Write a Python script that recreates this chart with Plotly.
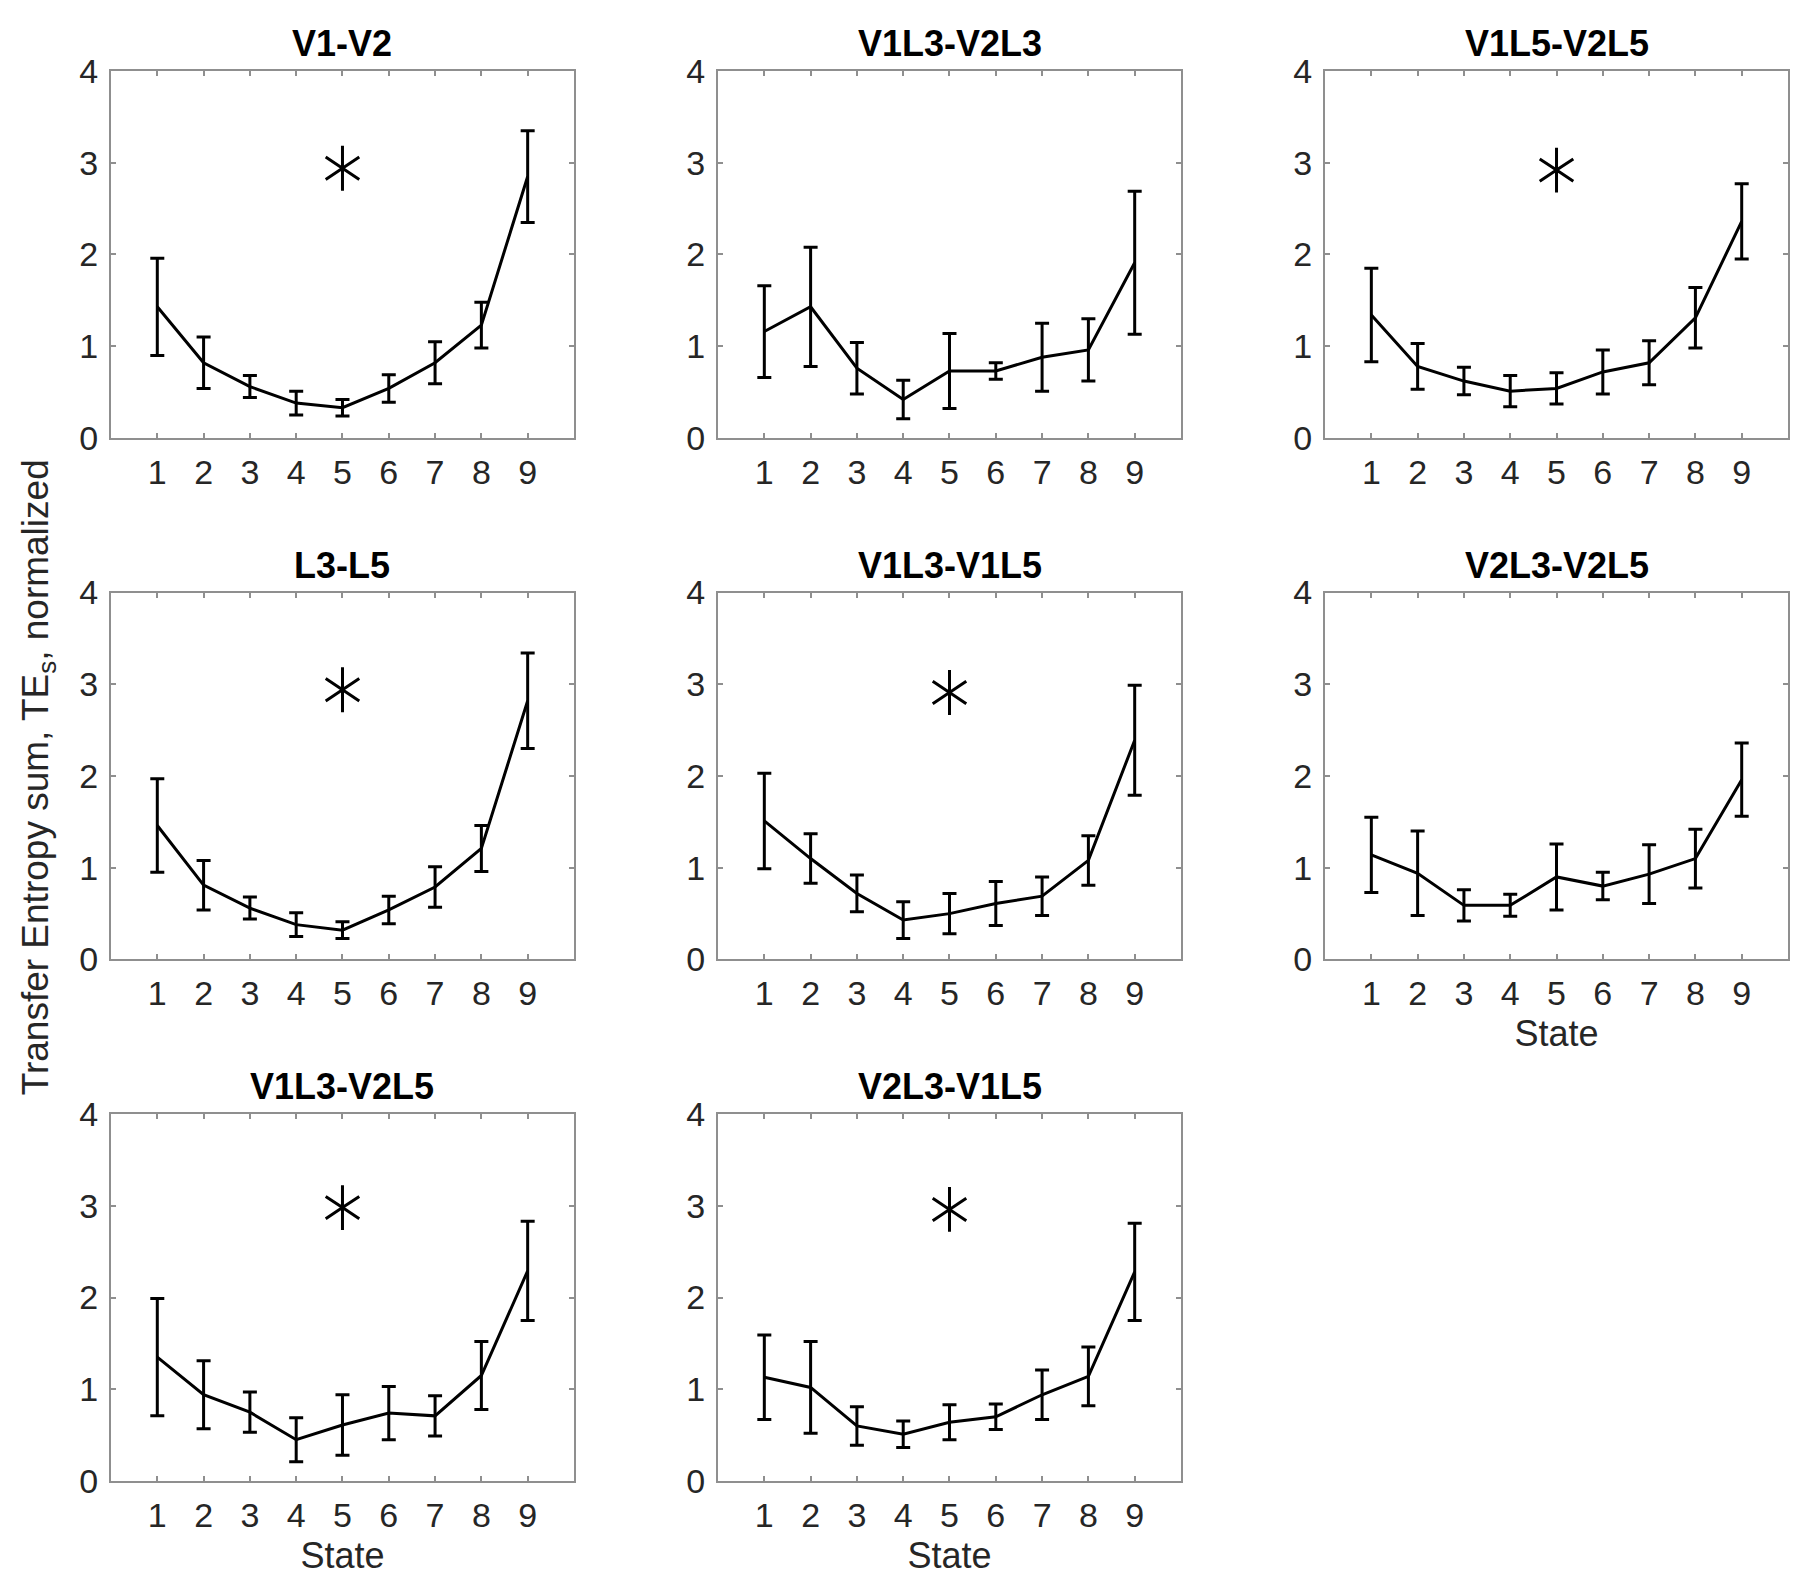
import plotly.graph_objects as go
from plotly.subplots import make_subplots

# Data
states = [1, 2, 3, 4, 5, 6, 7, 8, 9]
panel_titles = ["V1-V2", "V1L3-V2L3", "V1L5-V2L5",
                "L3-L5", "V1L3-V1L5", "V2L3-V2L5",
                "V1L3-V2L5", "V2L3-V1L5"]

v1_v2 = [1.43, 0.82, 0.56, 0.38, 0.33, 0.54, 0.82, 1.23, 2.85]
v1_v2_err = [0.53, 0.28, 0.12, 0.13, 0.09, 0.15, 0.23, 0.25, 0.50]

v1l3_v2l3 = [1.16, 1.43, 0.76, 0.42, 0.73, 0.73, 0.88, 0.96, 1.91]
v1l3_v2l3_err = [0.50, 0.65, 0.28, 0.21, 0.41, 0.09, 0.37, 0.34, 0.78]

v1l5_v2l5 = [1.34, 0.78, 0.62, 0.51, 0.54, 0.72, 0.82, 1.31, 2.36]
v1l5_v2l5_err = [0.51, 0.25, 0.15, 0.17, 0.17, 0.24, 0.24, 0.33, 0.41]

l3_l5 = [1.46, 0.81, 0.56, 0.38, 0.32, 0.54, 0.79, 1.21, 2.82]
l3_l5_err = [0.51, 0.27, 0.12, 0.13, 0.09, 0.15, 0.22, 0.25, 0.52]

v1l3_v1l5 = [1.51, 1.10, 0.72, 0.43, 0.50, 0.61, 0.69, 1.08, 2.39]
v1l3_v1l5_err = [0.52, 0.27, 0.20, 0.20, 0.22, 0.24, 0.21, 0.27, 0.60]

v2l3_v2l5 = [1.14, 0.94, 0.59, 0.59, 0.90, 0.80, 0.93, 1.10, 1.96]
v2l3_v2l5_err = [0.41, 0.46, 0.17, 0.12, 0.36, 0.15, 0.32, 0.32, 0.40]

v1l3_v2l5 = [1.35, 0.94, 0.75, 0.45, 0.61, 0.74, 0.71, 1.15, 2.29]
v1l3_v2l5_err = [0.64, 0.37, 0.22, 0.24, 0.33, 0.29, 0.22, 0.37, 0.54]

v2l3_v1l5 = [1.13, 1.02, 0.60, 0.51, 0.64, 0.70, 0.94, 1.14, 2.28]
v2l3_v1l5_err = [0.46, 0.50, 0.21, 0.145, 0.19, 0.14, 0.27, 0.32, 0.53]

# significance markers (state, value); None = not significant
star_x = 5
star_y = [2.94, None, 2.92, 2.94, 2.91, None, 2.98, 2.96]

series = [v1_v2, v1l3_v2l3, v1l5_v2l5, l3_l5, v1l3_v1l5, v2l3_v2l5, v1l3_v2l5, v2l3_v1l5]
errors = [v1_v2_err, v1l3_v2l3_err, v1l5_v2l5_err, l3_l5_err, v1l3_v1l5_err,
          v2l3_v2l5_err, v1l3_v2l5_err, v2l3_v1l5_err]
xlabel_panels = {5, 6, 7}

FONT = "Liberation Sans, Arial, sans-serif"
AXIS_GREY = "#8f8f8f"
TEXT = "#262626"

fig = make_subplots(
    rows=3, cols=3,
    subplot_titles=panel_titles,
    horizontal_spacing=0.0859,
    vertical_spacing=0.1096,
)

for i, (vals, errs) in enumerate(zip(series, errors)):
    row, col = i // 3 + 1, i % 3 + 1
    fig.add_trace(go.Scatter(
        x=states,
        y=vals,
        mode="lines",
        line=dict(color="black", width=3),
        error_y=dict(type="data", array=errs, visible=True,
                     color="black", thickness=3, width=7),
        showlegend=False,
    ), row=row, col=col)

    if star_y[i] is not None:
        # six-armed asterisk built from two opposing "Y" markers
        fig.add_trace(go.Scatter(
            x=[star_x, star_x],
            y=[star_y[i], star_y[i]],
            mode="markers",
            marker=dict(symbol=["y-up-open", "y-down-open"], size=28,
                        color="black", line=dict(color="black", width=3)),
            showlegend=False,
        ), row=row, col=col)

    fig.update_xaxes(range=[0, 10], tickvals=states, row=row, col=col)
    if i in xlabel_panels:
        fig.update_xaxes(
            title=dict(text="State", standoff=10,
                       font=dict(size=36, color=TEXT, family=FONT)),
            row=row, col=col,
        )
    fig.update_yaxes(range=[0, 4], tickvals=[0, 1, 2, 3, 4], row=row, col=col)

fig.update_xaxes(
    showline=True, linecolor=AXIS_GREY, linewidth=2, mirror="ticks",
    ticks="inside", ticklen=5, tickcolor=AXIS_GREY, tickwidth=1.5,
    showgrid=False, zeroline=False,
    tickfont=dict(size=34, color=TEXT, family=FONT),
    ticklabelstandoff=3,
)
fig.update_yaxes(
    showline=True, linecolor=AXIS_GREY, linewidth=2, mirror="ticks",
    ticks="inside", ticklen=5, tickcolor=AXIS_GREY, tickwidth=1.5,
    showgrid=False, zeroline=False,
    tickfont=dict(size=34, color=TEXT, family=FONT),
    ticklabelstandoff=4,
)

# empty ninth slot
fig.update_xaxes(visible=False, row=3, col=3)
fig.update_yaxes(visible=False, row=3, col=3)

for ann in fig.layout.annotations:
    ann.font = dict(size=36, color="black", family=FONT, weight="bold")
    ann.yshift = 5

fig.add_annotation(
    text="Transfer Entropy sum, TE<sub>s</sub>, normalized",
    xref="paper", yref="paper",
    x=-0.043, y=0.499,
    xanchor="center", yanchor="middle",
    textangle=-90,
    showarrow=False,
    font=dict(size=37, color=TEXT, family=FONT),
)

fig.update_layout(
    width=1800,
    height=1576,
    paper_bgcolor="white",
    plot_bgcolor="white",
    margin=dict(l=103, r=20, t=63, b=103),
)

fig.write_html("out.html")
